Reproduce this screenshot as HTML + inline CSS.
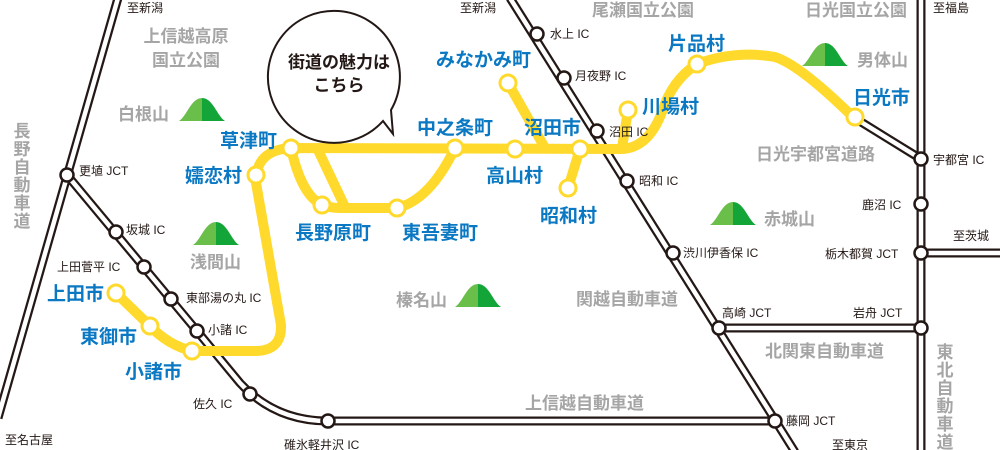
<!DOCTYPE html>
<html><head><meta charset="utf-8"><style>
body{margin:0;background:#fff;}
svg{display:block;}
text{font-family:"Liberation Sans","Noto Sans CJK JP",sans-serif;}
.s{font-size:12px;fill:#231815;}
.g{font-size:17px;font-weight:bold;fill:#a5a5a5;}
.b{font-size:19px;font-weight:bold;fill:#0a78c2;}
</style></head><body>
<svg width="1000" height="450" viewBox="0 0 1000 450" xmlns="http://www.w3.org/2000/svg">
<defs>
<g id="mt"><path d="M0 23 C8 18 12 0 23 0 L23 23Z" fill="#6abf4b"/><path d="M23 0 C34 0 38 18 46 23 L23 23Z" fill="#13a538"/></g>
</defs>
<!-- roads -->
<g fill="none" stroke-linejoin="round">
<g stroke="#231815" stroke-width="9">
<path d="M118 -2 L-2 418"/>
<path d="M67 175 L197 331 L240 383 Q275 421 328 421 L775 421"/>
<path d="M510 -2 L795 452"/>
<path d="M921 -2 L921 452"/>
<path d="M853 117 L921 159"/>
<path d="M921 253 L1002 253"/>
<path d="M719 328 L921 328"/>
</g>
<g stroke="#fff" stroke-width="4.5">
<path d="M118 -2 L-2 418"/>
<path d="M67 175 L197 331 L240 383 Q275 421 328 421 L775 421"/>
<path d="M510 -2 L795 452"/>
<path d="M921 -2 L921 452"/>
<path d="M853 117 L921 159"/>
<path d="M921 253 L1002 253"/>
<path d="M719 328 L921 328"/>
</g>
</g>
<!-- IC nodes -->
<g fill="#fff" stroke="#231815" stroke-width="2.5">
<circle cx="67" cy="175" r="6.5"/><circle cx="116" cy="232" r="6.5"/><circle cx="144" cy="267" r="6.5"/>
<circle cx="171" cy="299" r="6.5"/><circle cx="197" cy="331" r="6.5"/><circle cx="250" cy="394" r="6.5"/>
<circle cx="328" cy="421" r="6.5"/><circle cx="775" cy="421" r="6.5"/>
<circle cx="537" cy="34" r="6.5"/><circle cx="564" cy="78" r="6.5"/><circle cx="597" cy="131" r="6.5"/>
<circle cx="627" cy="181" r="6.5"/><circle cx="673" cy="253" r="6.5"/><circle cx="719" cy="328" r="6.5"/>
<circle cx="921" cy="159" r="6.5"/><circle cx="921" cy="204" r="6.5"/><circle cx="921" cy="253" r="6.5"/><circle cx="921" cy="328" r="6.5"/>
</g>
<!-- yellow lines -->
<g fill="none" stroke="#ffda2d" stroke-width="10" stroke-linecap="round" stroke-linejoin="round">
<path d="M116 293 L150 326 Q168 345 192 351 L255 351 Q282 351 281 325 L256 183 Q255 150 291 148 L620 149 Q648 149 662 112 Q672 80 697 64 Q735 50 775 57 Q800 65 853 117"/>
<path d="M291 148 Q298 180 310 195 Q320 208 340 208 L397 208 Q430 200 455 148"/>
<path d="M318 150 L345 207"/>
<path d="M508 83 L545 148"/>
<path d="M628 110 L622 148"/>
<path d="M568 188 L580 149"/>
</g>
<g fill="#fff" stroke="#ffda2d" stroke-width="3">
<circle cx="116" cy="293" r="8"/><circle cx="150" cy="326" r="8"/><circle cx="192" cy="351" r="8"/>
<circle cx="256" cy="175" r="8"/><circle cx="291" cy="148" r="8"/><circle cx="322" cy="205" r="8"/>
<circle cx="397" cy="208" r="8"/><circle cx="455" cy="148" r="8"/><circle cx="515" cy="149" r="8"/>
<circle cx="580" cy="149" r="8"/><circle cx="508" cy="83" r="8"/><circle cx="568" cy="188" r="8"/>
<circle cx="628" cy="110" r="8"/><circle cx="697" cy="64" r="8"/><circle cx="855" cy="117" r="8"/>
</g>
<!-- mountains -->
<use href="#mt" x="179" y="98"/><use href="#mt" x="193" y="222"/><use href="#mt" x="455" y="284"/>
<use href="#mt" x="710" y="202"/><use href="#mt" x="802" y="43"/>
<!-- bubble -->
<path d="M383 121 A66 66 0 1 1 391 110 L393 134 Z" fill="#fff" stroke="#231815" stroke-width="2"/>
<text x="339" y="68" text-anchor="middle" style="font-size:17px;font-weight:bold;fill:#231815">街道の魅力は</text>
<text x="339" y="91" text-anchor="middle" style="font-size:17px;font-weight:bold;fill:#231815">こちら</text>
<!-- gray labels -->
<text class="g" x="186" y="42" text-anchor="middle">上信越高原</text>
<text class="g" x="186" y="66" text-anchor="middle">国立公園</text>
<text class="g" x="118" y="120">白根山</text>
<text class="g" x="190" y="268">浅間山</text>
<text class="g" x="396" y="306">榛名山</text>
<text class="g" x="764" y="225">赤城山</text>
<text class="g" x="857" y="66">男体山</text>
<text class="g" x="592" y="16">尾瀬国立公園</text>
<text class="g" x="805" y="16">日光国立公園</text>
<text class="g" x="756" y="160">日光宇都宮道路</text>
<text class="g" x="576" y="305">関越自動車道</text>
<text class="g" x="765" y="357">北関東自動車道</text>
<text class="g" x="525" y="409">上信越自動車道</text>
<g class="g" text-anchor="middle">
<text x="22" y="137">長</text><text x="22" y="155">野</text><text x="22" y="173">自</text><text x="22" y="191">動</text><text x="22" y="209">車</text><text x="22" y="227">道</text>
<text x="945" y="358">東</text><text x="945" y="376">北</text><text x="945" y="394">自</text><text x="945" y="412">動</text><text x="945" y="430">車</text><text x="945" y="448">道</text>
</g>
<!-- blue labels -->
<text class="b" x="47" y="300">上田市</text>
<text class="b" x="80" y="343">東御市</text>
<text class="b" x="125" y="378">小諸市</text>
<text class="b" x="185" y="182">嬬恋村</text>
<text class="b" x="220" y="147">草津町</text>
<text class="b" x="295" y="239">長野原町</text>
<text class="b" x="402" y="239">東吾妻町</text>
<text class="b" x="417" y="134">中之条町</text>
<text class="b" x="486" y="182">高山村</text>
<text class="b" x="436" y="66">みなかみ町</text>
<text class="b" x="524" y="134">沼田市</text>
<text class="b" x="540" y="222">昭和村</text>
<text class="b" x="642" y="113">川場村</text>
<text class="b" x="668" y="50">片品村</text>
<text class="b" x="853" y="104">日光市</text>
<!-- small labels -->
<text class="s" x="127" y="12">至新潟</text>
<text class="s" x="460" y="12">至新潟</text>
<text class="s" x="933" y="12">至福島</text>
<text class="s" x="79" y="175">更埴 JCT</text>
<text class="s" x="126" y="234">坂城 IC</text>
<text class="s" x="57" y="271">上田菅平 IC</text>
<text class="s" x="186" y="302">東部湯の丸 IC</text>
<text class="s" x="208" y="334">小諸 IC</text>
<text class="s" x="193" y="408">佐久 IC</text>
<text class="s" x="284" y="449">碓氷軽井沢 IC</text>
<text class="s" x="5" y="444">至名古屋</text>
<text class="s" x="550" y="38">水上 IC</text>
<text class="s" x="575" y="80">月夜野 IC</text>
<text class="s" x="609" y="136">沼田 IC</text>
<text class="s" x="639" y="185">昭和 IC</text>
<text class="s" x="683" y="257">渋川伊香保 IC</text>
<text class="s" x="722" y="317">高崎 JCT</text>
<text class="s" x="853" y="317">岩舟 JCT</text>
<text class="s" x="786" y="425">藤岡 JCT</text>
<text class="s" x="832" y="449">至東京</text>
<text class="s" x="933" y="164">宇都宮 IC</text>
<text class="s" x="862" y="209">鹿沼 IC</text>
<text class="s" x="953" y="240">至茨城</text>
<text class="s" x="825" y="258">栃木都賀 JCT</text>
</svg>
</body></html>
